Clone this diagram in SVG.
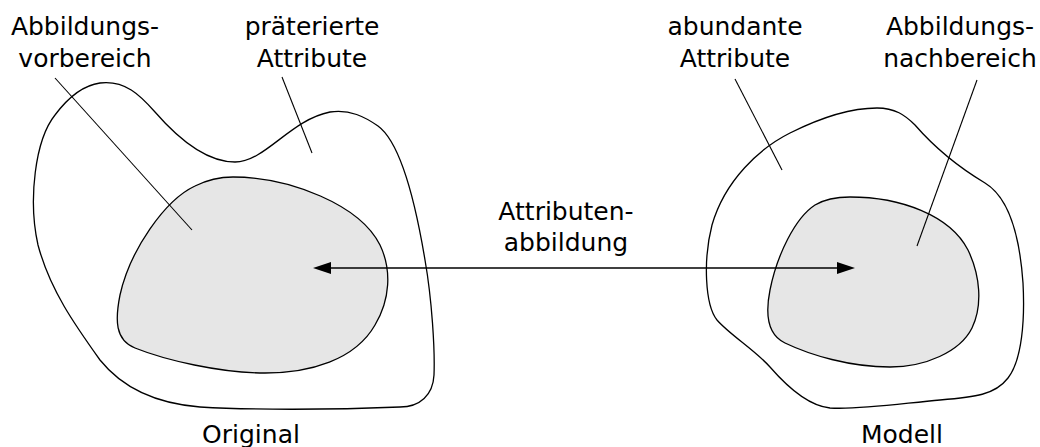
<svg xmlns="http://www.w3.org/2000/svg" width="1040" height="447" viewBox="0 0 1040 447">
  <style>
    .outline { fill: none; stroke: #000; stroke-width: 1.3; stroke-linejoin: round; }
    .region { fill: #e6e6e6; stroke: #000; stroke-width: 1.3; stroke-linejoin: round; }
    .leader { fill: none; stroke: #000; stroke-width: 1.1; }
    .conn { fill: none; stroke: #000; stroke-width: 1.3; }
    .label { font-family: "DejaVu Sans", "Liberation Sans", sans-serif; font-size: 25px; fill: #000; text-anchor: middle; }
  </style>
  <defs>
    <marker id="head" viewBox="0 0 18 12" refX="15" refY="6" markerWidth="18" markerHeight="12" markerUnits="userSpaceOnUse" orient="auto-start-reverse">
      <path d="M0,0 L18,6 L0,12 Z" fill="#000"/>
    </marker>
  </defs>

  <!-- Original: outer attribute set with inner pre-image region -->
  <g id="original">
    <path class="outline" d="M 100,83 C 125,80 140,95 155,112 C 175,135 205,162 235,162 C 265,162 290,120 330,112 C 350,109 365,117 378,126 C 400,142 415,200 425,260 C 432,300 435,350 434,375 C 433,395 420,407 400,407 C 330,410 250,410 200,407 C 150,403 120,385 100,360 C 75,325 50,290 38,245 C 28,200 35,140 55,115 C 70,95 85,85 100,83 Z"/>
    <path class="region" d="M 233,177 C 290,177 360,205 380,245 C 392,270 390,300 375,325 C 355,360 310,373 265,373 C 220,373 165,360 135,348 C 115,340 115,320 120,295 C 130,250 165,200 195,186 C 207,180 220,177 233,177 Z"/>
    <text class="label" x="251" y="443">Original</text>
  </g>

  <!-- Modell: outer attribute set with inner image region -->
  <g id="modell">
    <path class="outline" d="M 877,108 C 895,108 905,115 915,125 C 935,148 960,168 985,183 C 1010,198 1020,240 1023,283 C 1025,320 1022,360 1008,378 C 995,395 975,397 940,400 C 905,403 860,410 830,408 C 810,406 790,390 770,367 C 755,350 730,335 717,320 C 705,305 703,260 712,225 C 725,180 760,148 790,133 C 820,118 850,108 877,108 Z"/>
    <path class="region" d="M 850,197 C 900,197 950,215 968,250 C 980,275 983,305 972,328 C 960,352 925,367 890,367 C 850,367 810,355 785,343 C 768,335 765,315 770,290 C 777,255 795,218 815,205 C 825,199 838,197 850,197 Z"/>
    <text class="label" x="902" y="443">Modell</text>
  </g>

  <!-- Annotations with leader lines -->
  <g id="label-vorbereich">
    <text class="label" x="85" y="35">Abbildungs-</text>
    <text class="label" x="85" y="67">vorbereich</text>
    <line class="leader" x1="55" y1="78" x2="192" y2="230"/>
  </g>
  <g id="label-praeteriert">
    <text class="label" x="312" y="35">präterierte</text>
    <text class="label" x="312" y="67">Attribute</text>
    <line class="leader" x1="282" y1="77" x2="312" y2="153"/>
  </g>
  <g id="label-abundant">
    <text class="label" x="735" y="35">abundante</text>
    <text class="label" x="735" y="67">Attribute</text>
    <line class="leader" x1="735" y1="79" x2="782" y2="170"/>
  </g>
  <g id="label-nachbereich">
    <text class="label" x="960" y="35">Abbildungs-</text>
    <text class="label" x="960" y="67">nachbereich</text>
    <line class="leader" x1="977" y1="80" x2="917" y2="246"/>
  </g>

  <!-- Attribute mapping between the two regions -->
  <g id="connectors">
    <line class="conn" x1="316" y1="268" x2="852" y2="268" marker-start="url(#head)" marker-end="url(#head)"/>
    <text class="label" x="566" y="220">Attributen-</text>
    <text class="label" x="566" y="251">abbildung</text>
  </g>
</svg>
